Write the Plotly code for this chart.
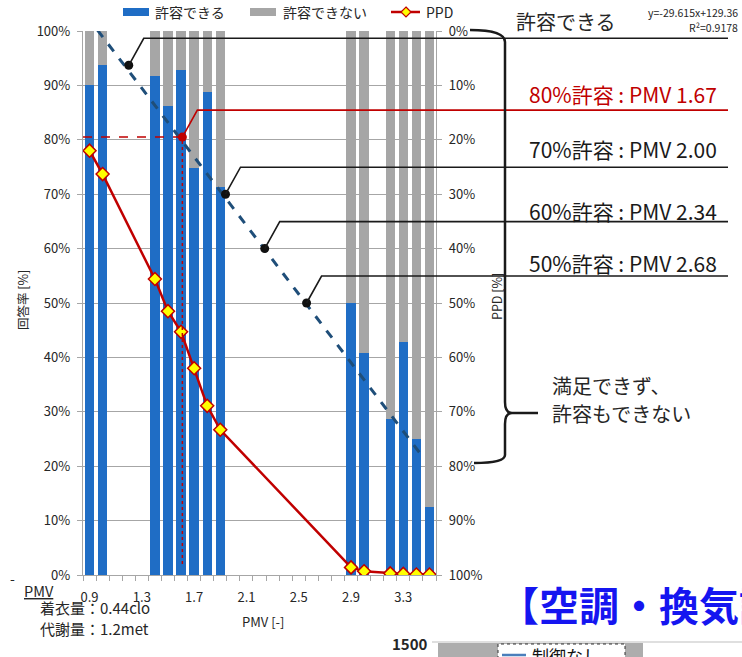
import plotly.graph_objects as go

# ---------------- data ----------------
pmv = [0.9, 1.0, 1.4, 1.5, 1.6, 1.7, 1.8, 1.9, 2.9, 3.0, 3.2, 3.3, 3.4, 3.5]
acceptable = [90, 93.8, 91.8, 86.3, 92.8, 74.9, 88.8, 71.4, 50, 40.9, 28.6, 42.9, 25, 12.5]
not_acceptable = [10, 6.2, 8.2, 13.7, 7.2, 25.1, 11.2, 28.6, 50, 59.1, 71.4, 57.1, 75, 87.5]
ppd = [22.0, 26.3, 45.6, 51.5, 55.3, 62.0, 68.9, 73.3, 98.6, 99.3, 99.7, 99.8, 99.9, 99.9]

trend_x = [0.96, 3.44]
trend_y = [100.2, 22.0]

top_point_x = [1.2]
top_point_y = [93.7]
limit_pmv = [1.61, 1.94, 2.24, 2.56]
limit_rate = [80.5, 70.0, 60.0, 50.0]
limit_labels = ["80%許容 : PMV 1.67", "70%許容 : PMV 2.00", "60%許容 : PMV 2.34", "50%許容 : PMV 2.68"]
limit_colors = ["#C00000", "#1a1a1a", "#1a1a1a", "#1a1a1a"]

x_tick_vals = [0.9, 1.3, 1.7, 2.1, 2.5, 2.9, 3.3]
x_tick_text = ["0.9", "1.3", "1.7", "2.1", "2.5", "2.9", "3.3"]
y_tick_vals = [0, 10, 20, 30, 40, 50, 60, 70, 80, 90, 100]
y_tick_text = [f"{v}%" for v in y_tick_vals]

# ---------------- geometry helpers ----------------
W, H = 742, 657
L, R, T, B = 83, 436, 31, 575
X_RANGE = [0.85, 3.55]


def px(x):
    return (x - L) / (R - L)


def py(y):
    return (B - y) / (B - T)


def dx(v):
    return (v - X_RANGE[0]) / (X_RANGE[1] - X_RANGE[0])


def dy(v):
    return v / 100.0


FONT = "Noto Sans CJK JP, Noto Sans, sans-serif"
BLUE = "#1F6DC5"
GRAY = "#A6A6A6"
RED = "#C00000"
AXC = "#A6A6A6"
TXT = "#262626"

fig = go.Figure()
fig.add_trace(go.Bar(x=pmv, y=acceptable, name="許容できる", marker_color=BLUE,
                     width=0.072, marker_line_width=0))
fig.add_trace(go.Bar(x=pmv, y=not_acceptable, name="許容できない", marker_color=GRAY,
                     width=0.072, marker_line_width=0))
fig.add_trace(go.Scatter(x=trend_x, y=trend_y, mode="lines",
                         line=dict(color="#1F4E79", width=3, dash="dash"), showlegend=False))
fig.add_trace(go.Scatter(x=pmv, y=ppd, name="PPD", yaxis="y2", mode="lines+markers",
                         line=dict(color=RED, width=2.5),
                         marker=dict(symbol="diamond", size=10, color="#FFFF00",
                                     line=dict(color=RED, width=1.5))))

# red dotted guide lines (80%)
fig.add_shape(type="line", xref="x", yref="y", x0=X_RANGE[0], x1=limit_pmv[0],
              y0=limit_rate[0], y1=limit_rate[0], line=dict(color=RED, width=1.5, dash="dash"))
fig.add_shape(type="line", xref="x", yref="y", x0=limit_pmv[0], x1=limit_pmv[0],
              y0=2, y1=limit_rate[0], line=dict(color=RED, width=1.5, dash="dot"))

fig.add_trace(go.Scatter(x=top_point_x + limit_pmv[1:], y=top_point_y + limit_rate[1:],
                         mode="markers", marker=dict(color="#111111", size=9), showlegend=False))
fig.add_trace(go.Scatter(x=limit_pmv[:1], y=limit_rate[:1], mode="markers",
                         marker=dict(color=RED, size=9), showlegend=False))

# callout lines
X_END = px(728)
ox, oy = 15 / (R - L), 27 / (B - T)
pts = [(top_point_x[0], top_point_y[0], "#1a1a1a", 1.6)] + \
      [(a, b, c, 1.6) for a, b, c in zip(limit_pmv, limit_rate, limit_colors)]
for (a, b, c, w) in pts:
    x0, y0 = dx(a), dy(b)
    x1, y1 = x0 + ox, y0 + oy
    fig.add_shape(type="path", xref="paper", yref="paper",
                  path=f"M {x0},{y0} L {x1},{y1} L {X_END},{y1}",
                  line=dict(color=c, width=w))

# brace
bx = px(505)
brace = (f"M {px(470)},{py(30)} Q {bx},{py(30)} {bx},{py(42)} "
         f"L {bx},{py(402)} Q {bx},{py(413)} {px(512)},{py(413)} "
         f"Q {bx},{py(413)} {bx},{py(424)} L {bx},{py(455)} "
         f"Q {bx},{py(463)} {px(474)},{py(463)}")
fig.add_shape(type="path", xref="paper", yref="paper", path=brace,
              line=dict(color="#1a1a1a", width=2.5))
fig.add_shape(type="line", xref="paper", yref="paper", x0=px(512), x1=px(538),
              y0=py(413), y1=py(413), line=dict(color="#1a1a1a", width=2.5))

ann = []


def text(x, y, s, size, color=TXT, xanchor="left", yanchor="middle", angle=0, bold=False):
    ann.append(dict(x=px(x), y=py(y), xref="paper", yref="paper", text=s, showarrow=False,
                    xanchor=xanchor, yanchor=yanchor, textangle=angle,
                    font=dict(family=FONT, size=size, color=color,
                              weight="bold" if bold else "normal")))


# custom legend
fig.add_shape(type="rect", xref="paper", yref="paper", x0=px(123), x1=px(149),
              y0=py(16), y1=py(8), fillcolor=BLUE, line_width=0)
text(153, 12, "許容できる", 14)
fig.add_shape(type="rect", xref="paper", yref="paper", x0=px(250), x1=px(276),
              y0=py(16), y1=py(8), fillcolor=GRAY, line_width=0)
text(281, 12, "許容できない", 14)
fig.add_shape(type="line", xref="paper", yref="paper", x0=px(391), x1=px(420),
              y0=py(12), y1=py(12), line=dict(color=RED, width=2.5))
fig.add_shape(type="path", xref="paper", yref="paper",
              path=f"M {px(406)},{py(7)} L {px(411)},{py(12)} L {px(406)},{py(17)} L {px(401)},{py(12)} Z",
              fillcolor="#FFFF00", line=dict(color=RED, width=1.2))
text(424, 12, "PPD", 14)

# callout texts
text(514, 22, "許容できる", 20)
text(740, 13, "y=-29.615x+129.36", 10.5, xanchor="right")
text(740, 27, "R²=0.9178", 10.5, xanchor="right")
for lab, c, yy in zip(limit_labels, limit_colors, [94, 149, 211, 263]):
    text(527, yy, lab, 21, color=c)
text(550, 385, "満足できず、", 20)
text(550, 413, "許容もできない", 20)

# axis titles
text(22, 300, "回答率 [%]", 12.5, xanchor="center", angle=-90)
text(496, 296, "PPD [%]", 12.5, xanchor="center", angle=-90)
text(263, 621, "PMV [-]", 13, xanchor="center")

# bottom-left notes
text(8, 578, "-", 14)
text(22, 590, "<u>PMV</u>", 14.5)
text(38, 607, "着衣量：0.44clo", 15)
text(38, 628, "代謝量：1.2met", 15)

# bottom-right residue
text(497, 604, "【空調・換気設備】", 40, color="#1515F0", bold=True)
text(430, 643, "1500", 15, xanchor="right", bold=True)
fig.add_shape(type="line", xref="paper", yref="paper", x0=px(432), x1=px(742),
              y0=py(642), y1=py(642), line=dict(color="#BFBFBF", width=1))
fig.add_shape(type="rect", xref="paper", yref="paper", x0=px(438), x1=px(643),
              y0=py(660), y1=py(643), fillcolor="#ADADAD", line_width=0)
fig.add_shape(type="rect", xref="paper", yref="paper", x0=px(498), x1=px(625),
              y0=py(660), y1=py(644), fillcolor="white",
              line=dict(color="#333333", width=1, dash="dot"))
fig.add_shape(type="line", xref="paper", yref="paper", x0=px(502), x1=px(526),
              y0=py(655), y1=py(655), line=dict(color="#4A7EBB", width=2.5))
text(530, 655, "制御なし", 17, color="#111111")

fig.update_layout(
    width=W, height=H,
    margin=dict(l=L, r=W - R, t=T, b=H - B),
    paper_bgcolor="white", plot_bgcolor="white",
    barmode="stack", bargap=0, showlegend=False,
    font=dict(family=FONT, size=13, color=TXT),
    annotations=ann,
    xaxis=dict(range=X_RANGE, tickvals=x_tick_vals, ticktext=x_tick_text, ticks="",
               showgrid=False, zeroline=False, showline=True, linecolor=AXC, linewidth=1.3,
               ticklabelstandoff=10, tickfont=dict(size=13, color=TXT),
               minor=dict(tick0=0.85, dtick=0.1, ticks="outside", ticklen=5,
                          tickcolor=AXC, showgrid=False)),
    yaxis=dict(range=[0, 100], tickvals=y_tick_vals, ticktext=y_tick_text,
               showgrid=True, gridcolor=AXC, gridwidth=1.3, zeroline=False,
               showline=True, linecolor=AXC, linewidth=1.3, ticks="outside", ticklen=5,
               tickcolor=AXC, ticklabelstandoff=4, tickfont=dict(size=13, color=TXT)),
    yaxis2=dict(range=[100, 0], overlaying="y", side="right", tickvals=y_tick_vals,
                ticktext=y_tick_text, showgrid=False, zeroline=False, showline=True,
                linecolor=AXC, linewidth=1.3, ticks="outside", ticklen=5, tickcolor=AXC,
                ticklabelstandoff=4, tickfont=dict(size=13, color=TXT)),
)

fig.write_html("out.html", config={"displayModeBar": False},
               post_script="document.body.style.margin='0';document.body.style.overflow='hidden';")
